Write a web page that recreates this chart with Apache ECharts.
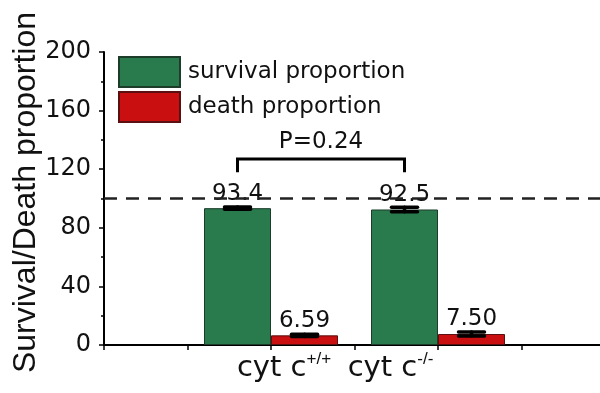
<!DOCTYPE html>
<html>
<head>
<meta charset="utf-8">
<script src="https://cdn.jsdelivr.net/npm/echarts@6/dist/echarts.min.js"></script>
<style>html,body{margin:0;padding:0;background:#fff}#c{width:600px;height:393px}</style>
</head>
<body>
<div id="c"></div>
<script>
// ---- data ----
const categories = ['', '', 'cyt c+/+', '', 'cyt c-/-', '', ''];
const survival = [null, null, 93.4, null, 92.5, null, null];
const death = [null, null, 6.59, null, 7.50, null, null];
const survivalErr = [null, null, 0.8, null, 1.6, null, null];
const deathErr = [null, null, 0.8, null, 1.3, null, null];
const yTicks = [0, 40, 80, 120, 160, 200];
const refLine = 100;
const bracket = { from: 2, to: 4, top: 127, leg: 118, text: 'P=0.24' };
const seriesNames = ['survival proportion', 'death proportion'];

// ---- style ----
const FONT = 'DejaVu Sans';
const TFONT = 'Liberation Sans';
const BAR_W = 67;
const CAP_W = 26;
const GREEN = '#297a4c';
const RED = '#c90f0f';

function errData(vals, errs, side) {
  const out = [];
  vals.forEach((v, i) => { if (v != null) out.push([i, v, errs[i], side]); });
  return out;
}

function renderErr(params, api) {
  const cat = api.value(0), v = api.value(1), e = api.value(2), side = api.value(3);
  const x = api.coord([cat, v])[0] + side * BAR_W / 2;
  const yHi = api.coord([cat, v + e])[1];
  const yLo = api.coord([cat, v - e])[1];
  const hw = CAP_W / 2;
  const st = { stroke: '#000', lineWidth: 3.5, lineCap: 'round' };
  return { type: 'group', children: [
    { type: 'line', shape: { x1: x, y1: yHi, x2: x, y2: yLo }, style: st },
    { type: 'line', shape: { x1: x - hw, y1: yHi, x2: x + hw, y2: yHi }, style: st },
    { type: 'line', shape: { x1: x - hw, y1: yLo, x2: x + hw, y2: yLo }, style: st }
  ]};
}

function renderBracket(params, api) {
  const x1 = api.coord([api.value(0), api.value(2)])[0] - BAR_W / 2;
  const x2 = api.coord([api.value(1), api.value(2)])[0] - BAR_W / 2;
  const yT = api.coord([api.value(0), api.value(2)])[1];
  const yL = api.coord([api.value(0), api.value(3)])[1];
  return { type: 'group', children: [
    { type: 'polyline', shape: { points: [[x1, yL], [x1, yT], [x2, yT], [x2, yL]] },
      style: { stroke: '#000', lineWidth: 3, fill: null } },
    { type: 'text', x: (x1 + x2) / 2, y: yT - 5,
      style: { text: bracket.text, font: '23px "' + FONT + '"', fill: '#111', align: 'center', verticalAlign: 'bottom' } }
  ]};
}

const chart = echarts.init(document.getElementById('c'));
chart.setOption({
  animation: false,
  textStyle: { fontFamily: FONT },
  grid: { left: 104, width: 501, top: 52, bottom: 48, containLabel: false, outerBoundsMode: 'none' },
  legend: {
    data: seriesNames,
    orient: 'vertical', left: 118, top: 56, padding: 0,
    itemWidth: 61, itemHeight: 30, itemGap: 3,
    icon: 'rect',
    textStyle: { fontSize: 23, color: '#111', fontFamily: FONT, padding: [0, 0, 0, 3] }
  },
  xAxis: {
    type: 'category', data: categories, boundaryGap: false,
    axisLine: { lineStyle: { color: '#000', width: 2 } },
    axisTick: { show: true, interval: 0, length: 5, lineStyle: { color: '#000', width: 1.5 } },
    axisLabel: {
      interval: 0, margin: 6, color: '#111',
      formatter: function (v, idx) {
        if (!v) return '';
        const m = v.match(/^(.*c)(.*)$/);
        return idx === 2 ? '{b1|' + m[1] + '}{s1|' + m[2] + '}' : '{b2|' + m[1] + '}{s2|' + m[2] + '}';
      },
      rich: {
        b1: { fontSize: 29, fontFamily: FONT, color: '#111', padding: [0, 0, 0, 26], lineHeight: 34 },
        s1: { fontSize: 17, fontFamily: TFONT, color: '#111', verticalAlign: 'top', lineHeight: 22 },
        b2: { fontSize: 29, fontFamily: FONT, color: '#111', lineHeight: 34 },
        s2: { fontSize: 17, fontFamily: TFONT, color: '#111', verticalAlign: 'top', lineHeight: 22, padding: [0, 95, 0, 0] }
      }
    },
    splitLine: { show: false }
  },
  yAxis: {
    type: 'value', min: yTicks[0], max: yTicks[yTicks.length - 1], interval: yTicks[1] - yTicks[0],
    name: 'Survival/Death proportion', nameLocation: 'middle', nameGap: 62, nameMoveOverlap: false,
    nameTextStyle: { fontSize: 32, color: '#111', fontFamily: TFONT, padding: [0, 0, 0, 12] },
    axisLine: { show: true, lineStyle: { color: '#000', width: 2 } },
    axisTick: { show: true, length: 5, lineStyle: { color: '#000', width: 1.5 } },
    minorTick: { show: true, splitNumber: 2, length: 3, lineStyle: { color: '#000', width: 1.5 } },
    axisLabel: { fontSize: 24, color: '#111', margin: 13, fontFamily: FONT },
    splitLine: { show: false }
  },
  series: [
    {
      name: seriesNames[0], type: 'bar', data: survival, barWidth: BAR_W, barGap: '0%',
      itemStyle: { color: GREEN, borderColor: '#1d3d2a', borderWidth: 1 },
      label: { show: true, position: 'top', distance: 3, fontSize: 23, color: '#111', fontFamily: FONT,
        formatter: p => p.value == null ? '' : p.value.toFixed(1) },
      markLine: {
        silent: true, symbol: 'none', label: { show: false },
        lineStyle: { color: '#222', type: [13, 9], width: 2.5 },
        data: [{ yAxis: refLine }]
      },
      z: 2
    },
    {
      name: seriesNames[1], type: 'bar', data: death, barWidth: BAR_W, barGap: '0%',
      itemStyle: { color: RED, borderColor: '#5a1010', borderWidth: 1 },
      label: { show: true, position: 'top', distance: 3, fontSize: 23, color: '#111', fontFamily: FONT,
        formatter: p => p.value == null ? '' : p.value.toFixed(2) },
      z: 2
    },
    { type: 'custom', renderItem: renderErr, data: errData(survival, survivalErr, -1), z: 5, silent: true },
    { type: 'custom', renderItem: renderErr, data: errData(death, deathErr, 1), z: 5, silent: true },
    { type: 'custom', renderItem: renderBracket, data: [[bracket.from, bracket.to, bracket.top, bracket.leg]], z: 5, silent: true }
  ]
});
</script>
</body>
</html>
